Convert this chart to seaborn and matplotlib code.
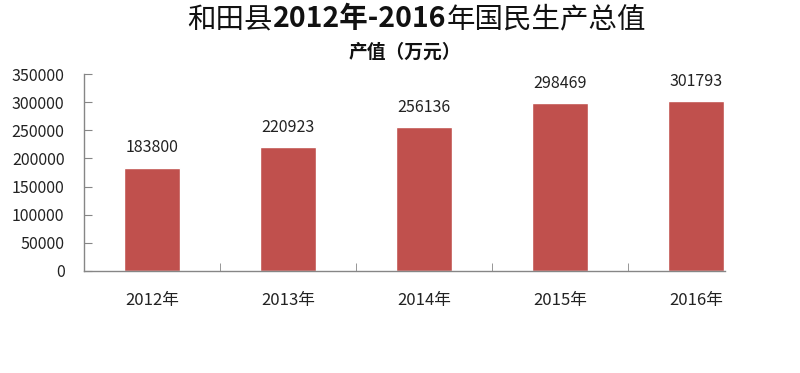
import matplotlib
matplotlib.use("Agg")
import matplotlib.pyplot as plt
import seaborn as sns
import pandas as pd

years = ['2012年', '2013年', '2014年', '2015年', '2016年']
output = [183800, 220923, 256136, 298469, 301793]
yticks = [0, 50000, 100000, 150000, 200000, 250000, 300000, 350000]

# title pieces: (text, weight)
title_parts = [('和田县', 'normal'), ('2012年-2016', 'bold'), ('年国民生产总值', 'normal')]

BAR_COLOR = '#C0504D'
AXIS_COLOR = '#868686'

sns.set_style('white')
plt.rcParams['font.family'] = ['Noto Sans CJK SC', 'DejaVu Sans']

df = pd.DataFrame({'year': years, 'value': output})

fig = plt.figure(figsize=(8, 3.73), dpi=100)
ax = fig.add_axes([0.105, 0.2735, 0.85, 0.528])

sns.barplot(data=df, x='year', y='value', color=BAR_COLOR, width=0.41,
            saturation=1, ax=ax)

# value labels above bars
for i, v in enumerate(output):
    ax.annotate(f'{v}', (i, v), xytext=(0, 8), textcoords='offset points',
                ha='center', va='bottom', fontsize=11.5, color='#222222')

ax.set_ylim(0, 350000)
ax.set_xlim(-0.5, 4.5)
ax.set_yticks(yticks)
ax.set_yticklabels([str(t) for t in yticks], fontsize=11.5, color='#222222')
ax.set_xlabel('')
ax.set_ylabel('')
ax.tick_params(axis='x', length=0, pad=15, labelsize=12, labelcolor='#222222')
ax.tick_params(axis='y', direction='in', length=6, color=AXIS_COLOR, pad=14, left=True)

# category separator ticks on the x axis
ax.set_xticks([0.5, 1.5, 2.5, 3.5], minor=True)
ax.tick_params(axis='x', which='minor', direction='in', length=6, color=AXIS_COLOR, bottom=True)

for side in ['top', 'right']:
    ax.spines[side].set_visible(False)
for side in ['left', 'bottom']:
    ax.spines[side].set_color(AXIS_COLOR)
    ax.spines[side].set_linewidth(1)
ax.spines['bottom'].set_bounds(-0.5, 4.21)

# title with bold years, laid out piece by piece, centred a bit right of middle
renderer = fig.canvas.get_renderer()
pieces = []
for txt, w in title_parts:
    t = fig.text(0, 0.948, txt, ha='left', va='center', fontsize=20.5,
                 fontweight=w, color='#111111')
    pieces.append(t)
widths = [p.get_window_extent(renderer).width for p in pieces]
total = sum(widths)
x = 0.521 * fig.bbox.width - total / 2
for p, wd in zip(pieces, widths):
    p.set_x(x / fig.bbox.width)
    x += wd

fig.text(0.506, 0.86, '产值（万元）', ha='center', va='center',
         fontsize=13.5, fontweight='bold', color='#111111')

fig.savefig('out.png', dpi=100, facecolor='white')
